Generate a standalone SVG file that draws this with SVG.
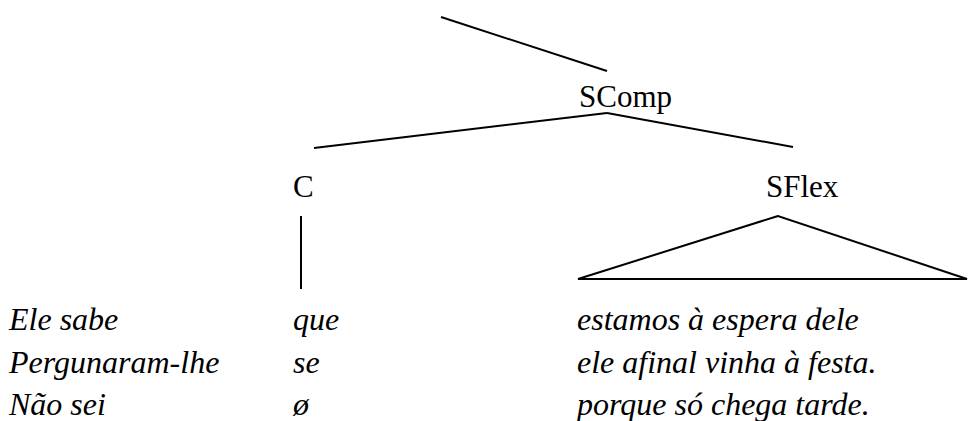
<svg xmlns="http://www.w3.org/2000/svg" width="968" height="421" viewBox="0 0 968 421">
<style>
.lbl{font-size:31px;fill:#000}
.it{font-size:32px;font-style:italic;fill:#000}
.ln{stroke:#000;stroke-width:2;fill:none}
</style>
<rect width="968" height="421" fill="#fff"/>
<g id="connectors">
<line class="ln" x1="441" y1="17" x2="607" y2="71"/>
<line class="ln" x1="314" y1="148" x2="607" y2="113"/>
<line class="ln" x1="607" y1="113" x2="793" y2="147"/>
<line class="ln" x1="301" y1="216" x2="301" y2="289"/>
<polygon class="ln" points="778,216 578,279 967,279"/>
</g>
<g font-family="Liberation Serif, DejaVu Serif, Noto Serif, serif">
<g id="SComp"><text class="lbl" x="579" y="107">SComp</text></g>
<g id="C"><text class="lbl" x="293" y="197">C</text></g>
<g id="SFlex"><text class="lbl" x="766" y="197">SFlex</text></g>
<g id="row1">
<text class="it" x="9" y="330">Ele sabe</text>
<text class="it" x="293" y="330">que</text>
<text class="it" x="577" y="330">estamos à espera dele</text>
</g>
<g id="row2">
<text class="it" x="9" y="373">Pergunaram-lhe</text>
<text class="it" x="293" y="373">se</text>
<text class="it" x="577" y="373">ele afinal vinha à festa.</text>
</g>
<g id="row3">
<text class="it" x="9" y="415">Não sei</text>
<text class="it" x="293" y="415">ø</text>
<text class="it" x="577" y="415">porque só chega tarde.</text>
</g>
</g>
</svg>
